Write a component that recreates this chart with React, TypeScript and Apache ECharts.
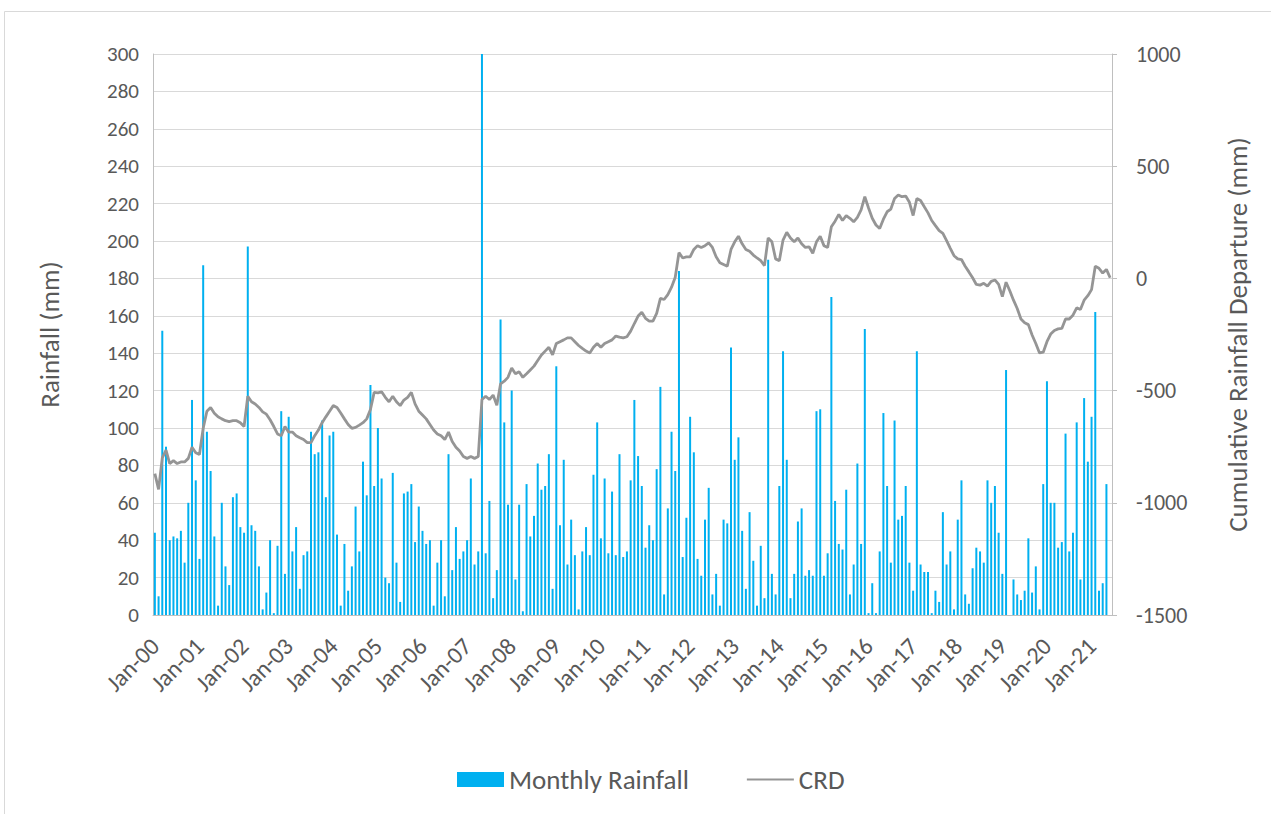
import React, { useEffect, useRef } from "react";
import * as echarts from "echarts";

const MONTHS = ["Jan", "Feb", "Mar", "Apr", "May", "Jun", "Jul", "Aug", "Sep", "Oct", "Nov", "Dec"];
const YEARS = ["00", "01", "02", "03", "04", "05", "06", "07", "08", "09", "10", "11", "12", "13", "14", "15", "16", "17", "18", "19", "20", "21"];

// Monthly rainfall (mm), one array per year
const R2000 = [44, 10, 152, 90, 40, 42, 41, 45, 28, 60, 115, 72];
const R2001 = [30, 187, 98, 77, 42, 5, 60, 26, 16, 63, 65, 47];
const R2002 = [44, 197, 48, 45, 26, 3, 12, 40, 1, 37, 109, 22];
const R2003 = [106, 34, 47, 14, 32, 34, 98, 86, 87, 104, 63, 96];
const R2004 = [98, 43, 5, 38, 13, 26, 58, 34, 82, 64, 123, 69];
const R2005 = [100, 73, 20, 17, 76, 28, 7, 65, 66, 70, 39, 58];
const R2006 = [45, 38, 40, 5, 28, 40, 10, 86, 24, 47, 30, 34];
const R2007 = [40, 73, 27, 34, 300, 33, 61, 9, 24, 158, 103, 59];
const R2008 = [120, 19, 59, 2, 70, 42, 53, 81, 67, 69, 86, 14];
const R2009 = [133, 48, 83, 27, 51, 32, 3, 34, 47, 32, 75, 103];
const R2010 = [41, 73, 33, 66, 32, 86, 31, 34, 72, 115, 85, 69];
const R2011 = [36, 48, 40, 78, 122, 11, 57, 98, 77, 184, 31, 52];
const R2012 = [106, 87, 30, 21, 51, 68, 11, 22, 5, 51, 49, 143];
const R2013 = [83, 95, 45, 14, 55, 29, 5, 37, 9, 190, 22, 11];
const R2014 = [69, 141, 83, 9, 22, 50, 57, 21, 24, 21, 109, 110];
const R2015 = [21, 33, 170, 61, 38, 35, 67, 11, 27, 81, 38, 153];
const R2016 = [1, 17, 1, 34, 108, 69, 28, 104, 51, 53, 69, 28];
const R2017 = [13, 141, 27, 23, 23, 1, 13, 7, 55, 27, 34, 3];
const R2018 = [51, 72, 11, 6, 25, 36, 34, 28, 72, 60, 69, 44];
const R2019 = [22, 131, 0, 19, 11, 8, 13, 41, 12, 26, 3, 70];
const R2020 = [125, 60, 60, 36, 39, 97, 34, 44, 103, 19, 116, 82];
const R2021 = [106, 162, 13, 17, 70, 0];

// Cumulative rainfall departure (mm), one array per year
const C2000 = [-870, -940, -800, -765, -825, -812, -825, -818, -818, -802, -752, -777];
const C2001 = [-785, -668, -592, -575, -601, -617, -626, -634, -638, -634, -634, -643];
const C2002 = [-660, -525, -550, -560, -575, -595, -605, -630, -660, -693, -701, -660];
const C2003 = [-685, -685, -701, -710, -718, -732, -732, -701, -676, -643, -617, -592];
const C2004 = [-567, -575, -600, -626, -651, -668, -664, -654, -643, -626, -584, -508];
const C2005 = [-510, -505, -530, -550, -525, -550, -567, -542, -530, -508, -559, -592];
const C2006 = [-609, -626, -651, -676, -693, -701, -718, -685, -727, -752, -769, -794];
const C2007 = [-802, -794, -802, -794, -540, -525, -540, -520, -565, -470, -458, -441];
const C2008 = [-399, -425, -416, -441, -425, -408, -391, -366, -341, -324, -307, -341];
const C2009 = [-290, -282, -274, -265, -265, -282, -299, -312, -324, -332, -307, -290];
const C2010 = [-307, -290, -282, -274, -257, -262, -265, -260, -235, -201, -168, -151];
const C2011 = [-178, -190, -190, -156, -89, -94, -72, -39, 5, 115, 91, 96];
const C2012 = [96, 129, 146, 138, 146, 158, 138, 96, 70, 62, 54, 129];
const C2013 = [163, 188, 154, 129, 121, 104, 91, 79, 57, 180, 163, 87];
const C2014 = [79, 171, 205, 180, 163, 180, 154, 138, 141, 112, 163, 188];
const C2015 = [146, 138, 230, 255, 285, 258, 280, 268, 252, 272, 305, 364];
const C2016 = [314, 268, 238, 222, 264, 297, 309, 356, 372, 364, 367, 339];
const C2017 = [280, 356, 347, 319, 292, 258, 235, 213, 201, 168, 134, 101];
const C2018 = [87, 84, 54, 29, 3, -27, -30, -22, -34, -13, -7, -27];
const C2019 = [-81, -17, -55, -97, -134, -181, -198, -206, -252, -290, -332, -329];
const C2020 = [-282, -248, -232, -225, -223, -181, -181, -164, -131, -139, -97, -77];
const C2021 = [-50, 54, 45, 24, 40, 3];

const RAIN = [R2000, R2001, R2002, R2003, R2004, R2005, R2006, R2007, R2008, R2009, R2010, R2011, R2012, R2013, R2014, R2015, R2016, R2017, R2018, R2019, R2020, R2021].flat();
const CRD = [C2000, C2001, C2002, C2003, C2004, C2005, C2006, C2007, C2008, C2009, C2010, C2011, C2012, C2013, C2014, C2015, C2016, C2017, C2018, C2019, C2020, C2021].flat();

const CATEGORIES: string[] = [];
YEARS.forEach((y) => MONTHS.forEach((m) => CATEGORIES.push(`${m}-${y}`)));
const CATS = CATEGORIES.slice(0, RAIN.length);

const FONT = "Carlito, Calibri, Lato, sans-serif";
const TXT = "#595959";
const BAR = "#00B0F0";
const LINE = "#959595";
// thin horizontal line legend icon (invisible corner points keep the full box height)
const LINE_ICON =
  "path://M0,0L0.01,0L0.01,0.01Z M0,6.6L47,6.6L47,8.4L0,8.4Z M0,15L0.01,15L0.01,14.99Z";

export default function App() {
  const ref = useRef<HTMLDivElement>(null);
  useEffect(() => {
    const chart = echarts.init(ref.current!, null, { renderer: "svg" });
    chart.setOption({
      animation: false,
      backgroundColor: "#ffffff",
      textStyle: { fontFamily: FONT },
      graphic: [
        {
          type: "rect",
          shape: { x: 4.5, y: 11.5, width: 1300, height: 900 },
          style: { fill: "none", stroke: "#d9d9d9", lineWidth: 1 },
          silent: true,
        },
      ],
      grid: { left: 153, right: 159, top: 54, bottom: 199, containLabel: false },
      legend: {
        left: 452,
        top: 761,
        itemWidth: 47,
        itemHeight: 15,
        itemGap: 58,
        textStyle: { fontFamily: FONT, fontSize: 27, color: TXT },
        data: [
          { name: "Monthly Rainfall", icon: "rect", itemStyle: { color: BAR } },
          { name: "CRD", icon: LINE_ICON, itemStyle: { color: LINE } },
        ],
      },
      xAxis: {
        type: "category",
        data: CATS,
        boundaryGap: true,
        axisLine: { lineStyle: { color: "#bfbfbf", width: 1 } },
        axisTick: { show: false },
        axisLabel: {
          interval: 11,
          rotate: 45,
          margin: 27,
          fontFamily: FONT,
          fontSize: 24,
          color: TXT,
        },
        splitLine: { show: false },
      },
      yAxis: [
        {
          type: "value",
          min: 0,
          max: 300,
          interval: 20,
          name: "Rainfall (mm)",
          nameLocation: "middle",
          nameRotate: 90,
          nameGap: 90,
          nameTextStyle: { fontFamily: FONT, fontSize: 27, color: TXT },
          axisLine: { show: true, lineStyle: { color: "#bfbfbf" } },
          axisTick: { show: false },
          axisLabel: { margin: 14, fontFamily: FONT, fontSize: 21, color: TXT },
          splitLine: { lineStyle: { color: "#d9d9d9", width: 1 } },
        },
        {
          type: "value",
          min: -1500,
          max: 1000,
          interval: 500,
          position: "right",
          name: "Cumulative Rainfall Departure (mm)",
          nameLocation: "middle",
          nameRotate: 90,
          nameGap: 112,
          nameTextStyle: { fontFamily: FONT, fontSize: 27, color: TXT },
          axisLine: { show: true, lineStyle: { color: "#bfbfbf" } },
          axisTick: { show: true, length: 5, inside: false, lineStyle: { color: "#bfbfbf" } },
          axisLabel: {
            margin: 24,
            fontFamily: FONT,
            fontSize: 22,
            color: TXT,
            formatter: (v: number) => String(v),
          },
          splitLine: { show: false },
        },
      ],
      series: [
        {
          name: "Monthly Rainfall",
          type: "bar",
          yAxisIndex: 0,
          data: RAIN,
          barWidth: 2,
          itemStyle: { color: BAR },
        },
        {
          name: "CRD",
          type: "line",
          yAxisIndex: 1,
          data: CRD,
          symbol: "none",
          z: 5,
          lineStyle: { color: LINE, width: 2.8 },
          itemStyle: { color: LINE },
        },
      ],
    });
    return () => chart.dispose();
  }, []);
  return (
    <div style={{ position: "fixed", left: 0, top: 0, width: 1271, height: 814, background: "#fff" }}>
      <div ref={ref} style={{ width: 1271, height: 814 }} />
    </div>
  );
}
